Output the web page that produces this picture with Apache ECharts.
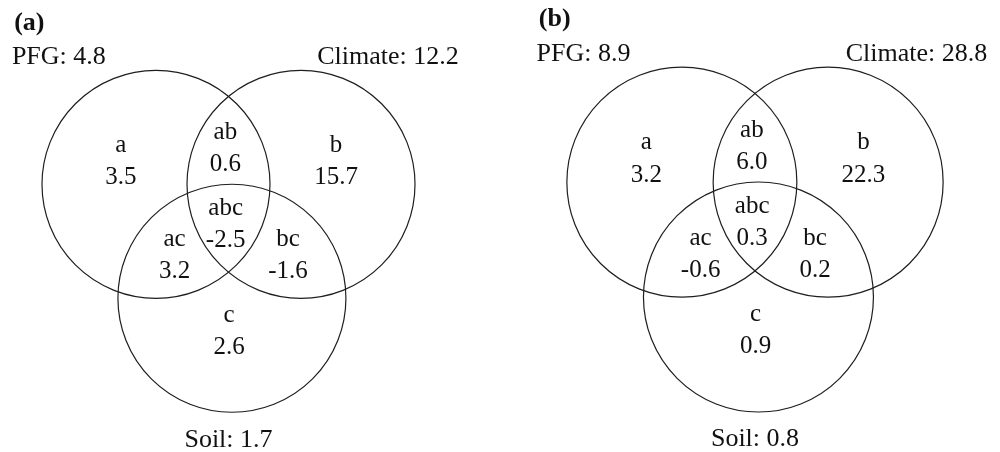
<!DOCTYPE html>
<html><head><meta charset="utf-8">
<script src="https://cdn.jsdelivr.net/npm/echarts@6/dist/echarts.min.js"></script>
<style>html,body{margin:0;padding:0;background:#fff}#c{width:1000px;height:452px}</style>
</head><body><div id="c"></div>
<script>
// ---- data ----
const panelTitles = ['(a)', '(b)'];
const setNames = ['PFG', 'Climate', 'Soil'];
const totalsA = [4.8, 12.2, 1.7];
const totalsB = [8.9, 28.8, 0.8];
const regionNames = ['a', 'ab', 'b', 'abc', 'ac', 'bc', 'c'];
const valuesA = [3.5, 0.6, 15.7, -2.5, 3.2, -1.6, 2.6];
const valuesB = [3.2, 6.0, 22.3, 0.3, -0.6, 0.2, 0.9];

// ---- layout (units of circle radius, y up) ----
const circleCenters = [[-0.636, 0], [0.636, 0], [0.03, -1.0]];
const regionAnchors = {
  a: [-0.945, 0.225], ab: [-0.027, 0.335], b: [0.943, 0.225],
  abc: [-0.025, -0.33], ac: [-0.473, -0.605], bc: [0.522, -0.605], c: [0.005, -1.27]
};
const setLabelPos = [
  {x: -1.9, y: 1.14, align: 'left'},
  {x: 2.02, y: 1.14, align: 'right'},
  {x: 0.0, y: -2.22, align: 'center'}
];
const titlePos = {x: -1.88, y: 1.44};
const panels = [{ox: 228.5, oy: 184.5, s: 114}, {ox: 755, oy: 182.5, s: 115}];
const xRange = [-2, 2.1], yRange = [-2.35, 1.58];
const lineHalf = 0.14;
const textDy = 2.5;
const FONT = '"Liberation Serif", "Times New Roman", serif';

const totals = [totalsA, totalsB];
const values = [valuesA, valuesB];

const grids = [], xAxes = [], yAxes = [], series = [];
panels.forEach((p, i) => {
  grids.push({
    left: p.ox + xRange[0] * p.s, width: (xRange[1] - xRange[0]) * p.s,
    top: p.oy - yRange[1] * p.s, height: (yRange[1] - yRange[0]) * p.s,
    containLabel: false
  });
  xAxes.push({type: 'value', gridIndex: i, min: xRange[0], max: xRange[1], show: false});
  yAxes.push({type: 'value', gridIndex: i, min: yRange[0], max: yRange[1], show: false});

  series.push({
    type: 'custom', xAxisIndex: i, yAxisIndex: i, clip: false, silent: true,
    data: circleCenters.map(c => [c[0], c[1], 1]),
    renderItem: (params, api) => {
      const pt = api.coord([api.value(0), api.value(1)]);
      const r = api.size([api.value(2), 0])[0];
      return {type: 'circle', shape: {cx: pt[0], cy: pt[1], r: r},
        style: {fill: 'none', stroke: '#1e1e1e', lineWidth: 1.2}};
    }
  });

  const items = [];
  items.push({x: titlePos.x, y: titlePos.y, text: panelTitles[i], align: 'left', font: 'bold 26px ' + FONT});
  setNames.forEach((n, k) => {
    const lp = setLabelPos[k];
    items.push({x: lp.x, y: lp.y, text: n + ': ' + totals[i][k].toFixed(1), align: lp.align, font: '26px ' + FONT});
  });
  regionNames.forEach((n, k) => {
    const a = regionAnchors[n];
    items.push({x: a[0], y: a[1] + lineHalf, text: n, align: 'center', font: '25px ' + FONT});
    items.push({x: a[0], y: a[1] - lineHalf, text: values[i][k].toFixed(1), align: 'center', font: '25px ' + FONT});
  });

  series.push({
    type: 'custom', xAxisIndex: i, yAxisIndex: i, clip: false, silent: true,
    data: items.map(t => [t.x, t.y]),
    renderItem: (params, api) => {
      const t = items[params.dataIndex];
      const pt = api.coord([api.value(0), api.value(1)]);
      return {type: 'text', x: pt[0], y: pt[1] + textDy,
        style: {text: t.text, font: t.font, fill: '#111',
          align: t.align, verticalAlign: 'middle',
          textAlign: t.align, textVerticalAlign: 'middle'}};
    }
  });
});

const chart = echarts.init(document.getElementById('c'), null, {renderer: 'canvas'});
chart.setOption({
  backgroundColor: '#fff',
  animation: false,
  grid: grids, xAxis: xAxes, yAxis: yAxes, series: series
});
</script></body></html>
